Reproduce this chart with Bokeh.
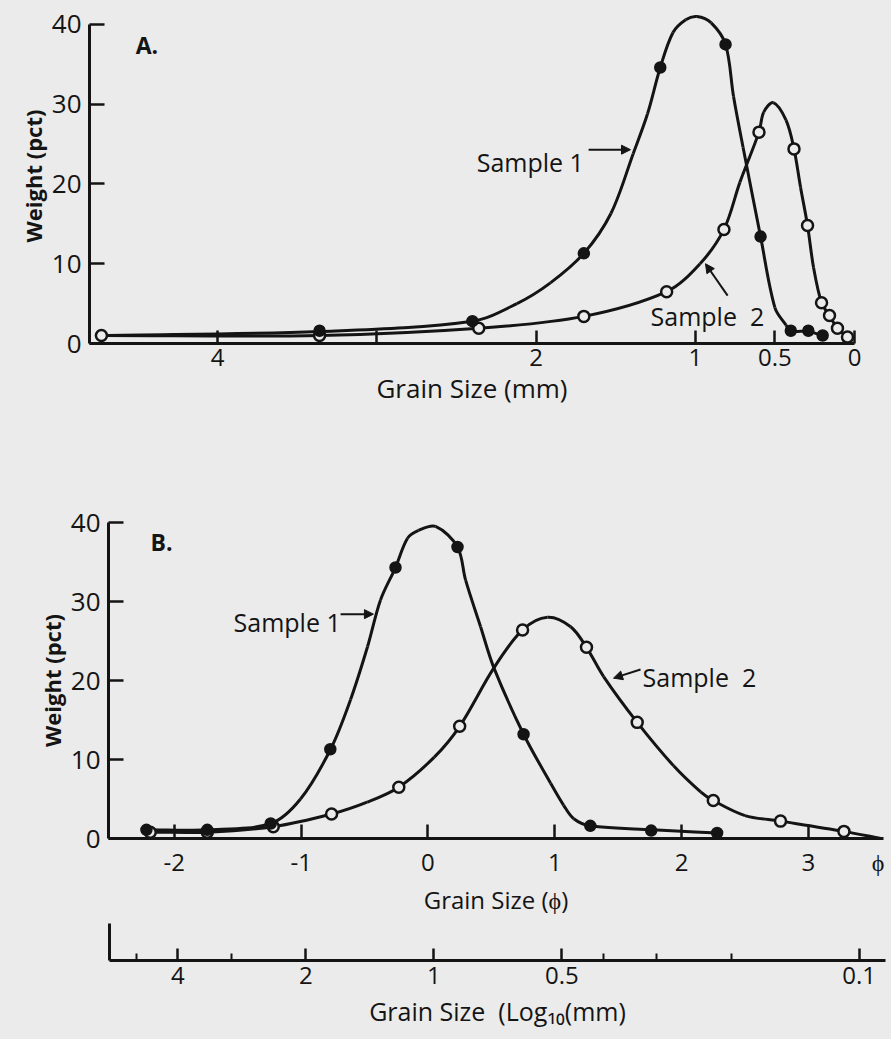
from bokeh.plotting import figure
from bokeh.layouts import column
from bokeh.models import Range1d, FixedTicker, Label, Arrow, NormalHead, Title
from bokeh.embed import file_html
from bokeh.resources import INLINE
import math

INK = "#141414"
BG = "#ebebeb"
FONT = "Open Sans"

# ---------------- Panel A : weight (pct) vs grain size (mm) ----------------
a_s1_mm = [3.36, 2.40, 1.70, 1.22, 0.81, 0.59, 0.40, 0.29, 0.20]
a_s1_pct = [1.6, 2.8, 11.3, 34.6, 37.5, 13.4, 1.6, 1.6, 1.0]
a_s2_mm = [4.73, 3.36, 2.36, 1.70, 1.18, 0.82, 0.60, 0.38, 0.295, 0.207, 0.157, 0.107, 0.044]
a_s2_pct = [1.0, 1.0, 1.9, 3.4, 6.5, 14.3, 26.5, 24.4, 14.8, 5.1, 3.5, 1.9, 0.8]
# traced hand-drawn curves
a_c1_mm = [4.73, 3.36, 2.40, 2.12, 1.91, 1.70, 1.53, 1.39, 1.30, 1.22, 1.14, 1.06, 0.99,
           0.90, 0.81, 0.76, 0.70, 0.59, 0.50, 0.43, 0.40, 0.29, 0.20]
a_c1_pct = [1.0, 1.5, 2.8, 5.0, 7.6, 11.3, 16.3, 23.8, 28.8, 34.6, 39.0, 40.6, 41.0,
            40.2, 37.5, 31.0, 24.6, 13.4, 4.5, 2.3, 1.6, 1.5, 1.0]
a_c2_mm = [4.73, 3.36, 2.36, 1.70, 1.18, 0.97, 0.82, 0.72, 0.60, 0.57, 0.51, 0.43, 0.38,
           0.339, 0.295, 0.257, 0.207, 0.157, 0.107, 0.044]
a_c2_pct = [1.0, 1.0, 1.9, 3.4, 6.5, 10.0, 14.3, 20.2, 26.5, 29.0, 30.2, 28.0, 24.4,
            19.6, 14.8, 9.5, 5.1, 3.5, 1.9, 0.8]
a_ticks = [4, 3, 2, 1, 0.5, 0]
a_tick_labels = ["4", "", "2", "1", "0.5", "0"]

# ---------------- Panel B : weight (pct) vs grain size (phi) ----------------
b_s1_phi = [-2.22, -1.74, -1.24, -0.77, -0.256, 0.233, 0.754, 1.28, 1.76, 2.28]
b_s1_pct = [1.1, 1.1, 1.9, 11.3, 34.3, 36.9, 13.2, 1.6, 1.0, 0.7]
b_s2_phi = [-2.19, -1.74, -1.22, -0.76, -0.23, 0.25, 0.746, 1.25, 1.65, 2.25, 2.78, 3.28]
b_s2_pct = [0.8, 0.8, 1.5, 3.1, 6.5, 14.2, 26.4, 24.2, 14.7, 4.8, 2.2, 0.9]
b_c1_phi = [-2.22, -1.74, -1.24, -1.005, -0.768, -0.61, -0.476, -0.374, -0.256, -0.161,
            -0.074, 0.06, 0.233, 0.297, 0.415, 0.52, 0.754, 0.967, 1.07, 1.15, 1.28,
            1.77, 2.28]
b_c1_pct = [1.1, 1.1, 1.9, 5.0, 11.3, 17.6, 24.3, 30.2, 34.3, 38.0, 39.0, 39.5, 36.9,
            32.7, 26.8, 21.6, 13.2, 7.0, 4.2, 2.5, 1.6, 1.1, 0.7]
b_c2_phi = [-2.19, -1.74, -1.22, -0.76, -0.48, -0.23, 0.05, 0.25, 0.52, 0.746, 0.943,
            1.125, 1.25, 1.385, 1.65, 1.937, 2.15, 2.25, 2.50, 2.78, 3.28, 3.57]
b_c2_pct = [0.8, 0.8, 1.5, 3.1, 4.6, 6.5, 10.3, 14.2, 21.6, 26.4, 28.0, 26.8, 24.2,
            20.5, 14.7, 9.2, 5.9, 4.8, 2.9, 2.2, 0.9, 0.0]
b_ticks = [-2, -1, 0, 1, 2, 3]
b_tick_labels = ["-2", "-1", "0", "1", "2", "3"]
b_unit_pos = 3.55
b_unit_label = "ϕ"

# ---------------- Log10 (mm) scale under panel B ----------------
log_major_mm = [4, 2, 1, 0.5, 0.1]
log_major_labels = ["4", "2", "1", "0.5", "0.1"]
log_minor_mm = [5, 3, 0.4, 0.3, 0.2]

y_ticks = [0, 10, 20, 30, 40]


def bezier_parts(xs, ys, sx, sy):
    """Chord-length weighted Catmull-Rom control points through the traced vertices.
    sx, sy are the approximate pixel sizes of one data unit (used only for distances)."""
    n = len(xs)
    d = [math.hypot((xs[i + 1] - xs[i]) * sx, (ys[i + 1] - ys[i]) * sy) for i in range(n - 1)]
    out = dict(x0=[], y0=[], x1=[], y1=[], cx0=[], cy0=[], cx1=[], cy1=[])

    def handle(i, outgoing):
        if i == 0:
            return xs[0] + (xs[1] - xs[0]) / 3.0, ys[0] + (ys[1] - ys[0]) / 3.0
        if i == n - 1:
            return xs[-1] - (xs[-1] - xs[-2]) / 3.0, ys[-1] - (ys[-1] - ys[-2]) / 3.0
        tx, ty = xs[i + 1] - xs[i - 1], ys[i + 1] - ys[i - 1]
        din, dout = d[i - 1], d[i]
        if outgoing:
            r = dout / (din + dout) / 3.0
            return xs[i] + tx * r, ys[i] + ty * r
        r = din / (din + dout) / 3.0
        return xs[i] - tx * r, ys[i] - ty * r

    for i in range(n - 1):
        c0 = handle(i, True)
        c1 = handle(i + 1, False)
        out["x0"].append(xs[i]); out["y0"].append(ys[i])
        out["x1"].append(xs[i + 1]); out["y1"].append(ys[i + 1])
        out["cx0"].append(c0[0]); out["cy0"].append(c0[1])
        out["cx1"].append(c1[0]); out["cy1"].append(c1[1])
    return out


def base_fig(width, height, xr, yr, left, right, top, bottom):
    f = figure(width=width, height=height, x_range=xr, y_range=yr,
               output_backend="svg", toolbar_location=None, frame_align=False,
               min_border_left=left, min_border_right=right,
               min_border_top=top, min_border_bottom=bottom)
    f.background_fill_color = BG
    f.border_fill_color = BG
    f.outline_line_color = None
    f.grid.visible = False
    for ax in f.axis:
        ax.axis_line_color = INK
        ax.axis_line_width = 3
        ax.major_tick_line_color = INK
        ax.major_tick_line_width = 2.5
        ax.major_tick_out = 0
        ax.minor_tick_line_color = None
        ax.major_label_text_color = INK
        ax.major_label_text_font = FONT
        ax.axis_label_text_font = FONT
        ax.axis_label_text_color = INK
    return f


def style_y(f):
    ax = f.yaxis[0]
    ax.ticker = FixedTicker(ticks=y_ticks)
    ax.bounds = (0, 40)
    ax.major_tick_in = 15
    ax.major_label_text_font_size = "26px"
    ax.major_label_standoff = 8
    ax.axis_label = "Weight (pct)"
    ax.axis_label_text_font_size = "22px"
    ax.axis_label_text_font_style = "bold"
    ax.axis_label_standoff = 1


def x_title(f, text, offset, size="26px", standoff=0):
    f.add_layout(Title(text=text, align="center", offset=offset, standoff=standoff,
                       text_font=FONT, text_font_size=size, text_font_style="normal",
                       text_color=INK), "below")


def draw_curve(f, xs, ys, sx, sy):
    f.bezier(**bezier_parts(xs, ys, sx, sy), line_color=INK, line_width=3)


def txt(f, x, y, s, size="25px", align="left", baseline="alphabetic", style="normal"):
    f.add_layout(Label(x=x, y=y, text=s, text_font=FONT, text_font_size=size,
                       text_color=INK, text_align=align, text_baseline=baseline,
                       text_font_style=style))


def arrow(f, xs, ys, xe, ye):
    f.add_layout(Arrow(end=NormalHead(size=9, fill_color=INK, line_color=INK, line_width=1),
                       x_start=xs, y_start=ys, x_end=xe, y_end=ye,
                       line_color=INK, line_width=2))


def markers(f, xo, yo, xf, yf):
    f.scatter(xo, yo, marker="circle", size=11, fill_color=BG, line_color=INK, line_width=2.5)
    f.scatter(xf, yf, marker="circle", size=11, fill_color=INK, line_color=INK, line_width=1.5)


# ---------------- Figure A ----------------
pa = base_fig(891, 440, Range1d(4.805, 0), Range1d(0, 42.0), 89, 37, 8, 97)
style_y(pa)
xa = pa.xaxis[0]
xa.ticker = FixedTicker(ticks=a_ticks)
xa.major_label_overrides = {t: l for t, l in zip(a_ticks, a_tick_labels)}
xa.major_tick_in = 13
xa.major_label_text_font_size = "24px"
xa.major_label_standoff = 5
x_title(pa, "Grain Size (mm)", 40, size="26px", standoff=-2)
draw_curve(pa, a_c1_mm, a_c1_pct, 159.2, 7.975)
draw_curve(pa, a_c2_mm, a_c2_pct, 159.2, 7.975)
markers(pa, a_s2_mm, a_s2_pct, a_s1_mm, a_s1_pct)
txt(pa, 4.515, 37.4, "A.", size="23px", style="bold")
txt(pa, 1.70, 22.7, "Sample\u00a01", align="right")
arrow(pa, 1.67, 24.3, 1.407, 24.3)
txt(pa, 1.281, 3.4, "Sample\u00a0\u00a02")
arrow(pa, 0.797, 6.0, 0.936, 10.0)

# ---------------- Figure B ----------------
pb = base_fig(891, 475, Range1d(-2.519, 3.592), Range1d(0, 40), 108, 8, 82, 75)
style_y(pb)
xb = pb.xaxis[0]
b_major = b_ticks + [b_unit_pos]
xb.ticker = FixedTicker(ticks=b_major, minor_ticks=b_ticks)
xb.major_label_overrides = {t: l for t, l in zip(b_major, b_tick_labels + [b_unit_label])}
xb.major_tick_line_color = None
xb.minor_tick_line_color = INK
xb.minor_tick_line_width = 2.5
xb.minor_tick_in = 14
xb.minor_tick_out = 0
xb.major_label_text_font_size = "24px"
xb.major_label_standoff = 6
x_title(pb, "Grain Size (ϕ)", 24, size="24px", standoff=0)
draw_curve(pb, b_c1_phi, b_c1_pct, 126.8, 7.95)
draw_curve(pb, b_c2_phi, b_c2_pct, 126.8, 7.95)
markers(pb, b_s2_phi, b_s2_pct, b_s1_phi, b_s1_pct)
txt(pb, -2.188, 37.5, "B.", size="23px", style="bold")
txt(pb, -1.533, 27.4, "Sample\u00a01")
arrow(pb, -0.689, 28.4, -0.43, 28.4)
txt(pb, 1.692, 20.4, "Sample\u00a0\u00a02")
arrow(pb, 1.676, 21.4, 1.463, 20.3)

# ---------------- Figure C : log10(mm) scale ----------------
lm = [round(-1000 * math.log10(v)) for v in log_major_mm]
ln = [round(-1000 * math.log10(v)) for v in log_minor_mm]
pc = base_fig(891, 124, Range1d(-763, 1062), Range1d(0, 1), 109, 6, 8, 79)
yc = pc.yaxis[0]
yc.major_tick_line_color = None
yc.major_label_text_font_size = "0px"
yc.ticker = FixedTicker(ticks=[])
xc = pc.xaxis[0]
xc.ticker = FixedTicker(ticks=lm, minor_ticks=ln)
xc.major_label_overrides = {t: l for t, l in zip(lm, log_major_labels)}
xc.major_tick_in = 12
xc.minor_tick_line_color = INK
xc.minor_tick_line_width = 2
xc.minor_tick_in = 7
xc.minor_tick_out = 0
xc.major_label_text_font_size = "24px"
xc.major_label_standoff = 6
xc.axis_label = "Grain Size\u00a0\u00a0(Log₁₀(mm)"
xc.axis_label_text_font_size = "25px"
xc.axis_label_text_font_style = "normal"
xc.axis_label_standoff = 7

layout = column(pa, pb, pc, spacing=0, styles={"background-color": BG})
open("out.html", "w").write(file_html(layout, INLINE))
